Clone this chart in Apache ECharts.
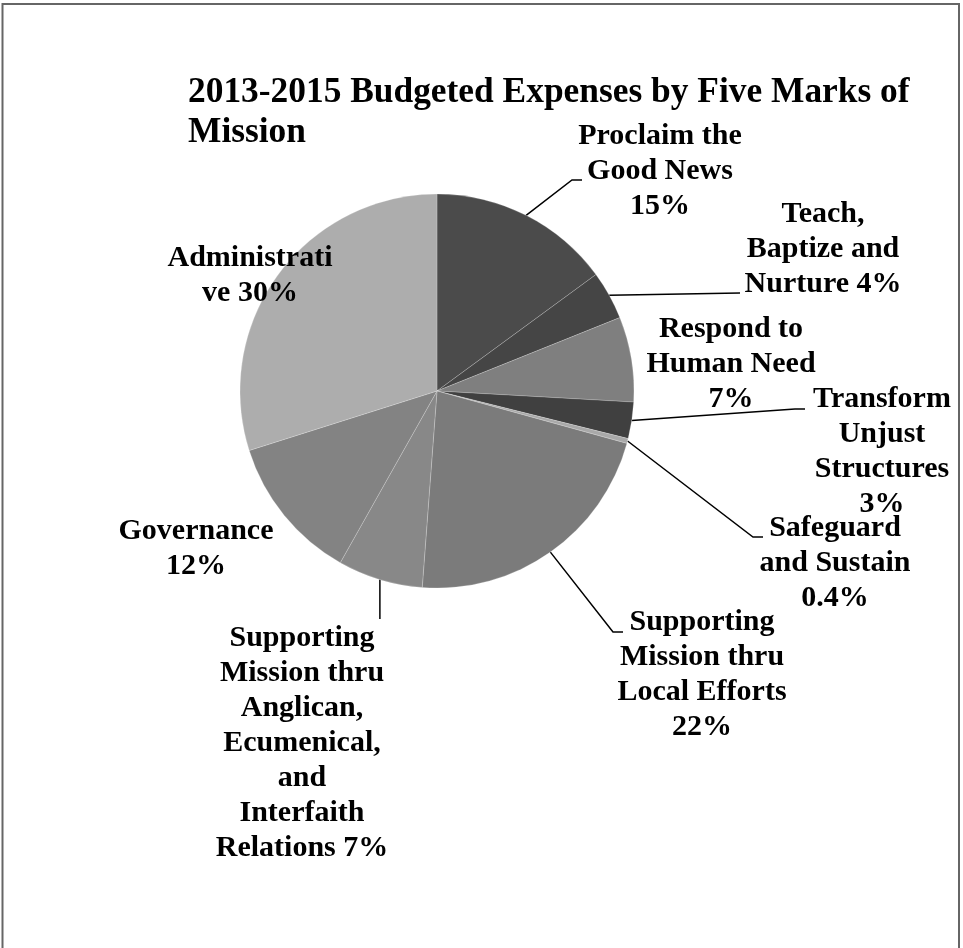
<!DOCTYPE html>
<html>
<head>
<meta charset="utf-8">
<script src="https://cdn.jsdelivr.net/npm/echarts@6/dist/echarts.min.js"></script>
<style>
  html, body { margin: 0; padding: 0; background: #fff; }
  #chart { width: 963px; height: 948px; }
</style>
</head>
<body>
<div id="chart"></div>
<script>
// ---- data ----
const titleText = "2013-2015 Budgeted Expenses by Five Marks of\nMission";
const categories = [
  "Proclaim the Good News",
  "Teach, Baptize and Nurture",
  "Respond to Human Need",
  "Transform Unjust Structures",
  "Safeguard and Sustain",
  "Supporting Mission thru Local Efforts",
  "Supporting Mission thru Anglican, Ecumenical, and Interfaith Relations",
  "Governance",
  "Administrative"
];
const shares = [15, 4, 7, 3, 0.4, 22, 7, 12, 30];
// label text as wrapped in the original (percent appended)
const wrappedLabels = [
  "Proclaim the\nGood News\n",
  "Teach,\nBaptize and\nNurture ",
  "Respond to\nHuman Need\n",
  "Transform\nUnjust\nStructures\n",
  "Safeguard\nand Sustain\n",
  "Supporting\nMission thru\nLocal Efforts\n",
  "Supporting\nMission thru\nAnglican,\nEcumenical,\nand\nInterfaith\nRelations ",
  "Governance\n",
  "Administrati\nve "
];
const sliceColors = ["#4b4b4b", "#454545", "#7f7f7f", "#404040", "#a9a9a9", "#7b7b7b", "#888888", "#838383", "#adadad"];
const noLeader = [2, 7, 8];

// ---- label placement (layout only) ----
const labelPlace = [
  { x: 660, y: 171, end: [582, 180], elbow: [572, 180] },
  { x: 823, y: 249, end: [740, 293], elbow: null },
  { x: 731, y: 364 },
  { x: 882, y: 452, end: [805, 409], elbow: [795, 409] },
  { x: 835, y: 563, end: [763, 537], elbow: [753, 537] },
  { x: 702, y: 675, end: [623, 632], elbow: [613, 632] },
  { x: 302, y: 743, end: [null, 619], elbow: 'vertical' },
  { x: 196, y: 549 },
  { x: 250, y: 276 }
];

const chart = echarts.init(document.getElementById('chart'), null, { renderer: 'canvas' });
const FONT = "'Liberation Serif', 'Times New Roman', serif";

chart.setOption({
  backgroundColor: '#ffffff',
  animation: false,
  title: {
    text: titleText,
    left: 188,
    top: 73,
    padding: 0,
    textStyle: {
      fontFamily: FONT,
      fontWeight: 'bold',
      fontSize: 35.4,
      lineHeight: 40,
      color: '#000'
    }
  },
  graphic: [{
    type: 'rect',
    shape: { x: 2.5, y: 4, width: 956.5, height: 970 },
    style: { fill: 'none', stroke: '#666666', lineWidth: 2 },
    silent: true,
    z: 100
  }],
  series: [{
    type: 'pie',
    center: [437, 391],
    radius: 197,
    startAngle: 90,
    clockwise: true,
    avoidLabelOverlap: false,
    itemStyle: { borderColor: 'rgba(255,255,255,0.35)', borderWidth: 0.6 },
    label: {
      show: true,
      position: 'outside',
      fontFamily: FONT,
      fontWeight: 'bold',
      fontSize: 30,
      lineHeight: 35,
      color: '#000',
      align: 'center',
      formatter: function (p) { return wrappedLabels[p.dataIndex] + p.value + '%'; }
    },
    labelLine: { show: true, lineStyle: { color: '#000', width: 1.5 } },
    labelLayout: function (params) {
      const pl = labelPlace[params.dataIndex];
      const res = { x: pl.x, y: pl.y, align: 'center', verticalAlign: 'middle', hideOverlap: false };
      if (pl.end && params.labelLinePoints) {
        const s = params.labelLinePoints[0];
        let end, elbow;
        if (pl.elbow === 'vertical') {
          end = [s[0], pl.end[1]];
          elbow = end;
        } else {
          end = pl.end;
          elbow = pl.elbow || pl.end;
        }
        res.labelLinePoints = [s, elbow, end];
      }
      return res;
    },
    data: categories.map(function (c, i) {
      return {
        name: c,
        value: shares[i],
        itemStyle: { color: sliceColors[i] },
        labelLine: { show: noLeader.indexOf(i) < 0 }
      };
    })
  }]
});
</script>
</body>
</html>
